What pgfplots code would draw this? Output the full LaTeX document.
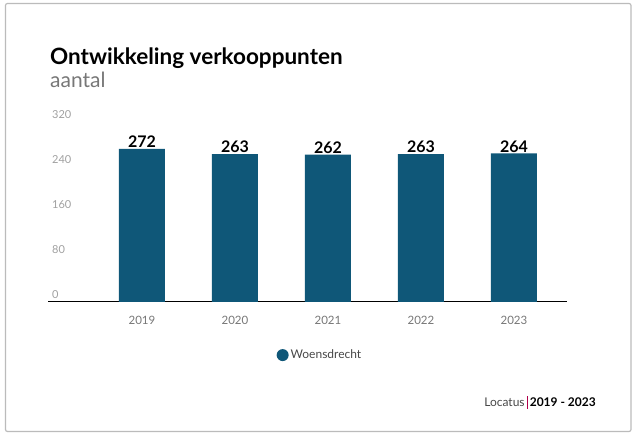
\documentclass[border=0pt]{standalone}
\usepackage{pgfplots}
\pgfplotsset{compat=1.18}
\usepackage{fontspec}
\setmainfont{Lato}
\definecolor{barblue}{HTML}{0F5778}
\definecolor{gridgray}{HTML}{DDDDDD}
\definecolor{ticklab}{HTML}{A0A0A0}
\definecolor{yearlab}{HTML}{777777}
\definecolor{framegray}{HTML}{BBBBBB}
\definecolor{srcred}{HTML}{B0004A}
\begin{document}
\begin{tikzpicture}[x=1pt,y=1pt]
\path[use as bounding box] (0,0) rectangle (635,435);
\draw[framegray, line width=1.2pt, rounded corners=2pt] (5.5,3.5) rectangle (631,431.5);
\node[anchor=base west, inner sep=0, font=\fontsize{22.5}{24}\selectfont\bfseries] at (50,370) {Ontwikkeling verkooppunten};
\node[anchor=base west, inner sep=0, font=\fontsize{21}{23}\selectfont, text=yearlab] at (50,347) {aantal};
\begin{axis}[
  at={(48pt,133pt)}, anchor=south west,
  scale only axis, width=519pt, height=180pt,
  xmin=-1.01, xmax=4.57, ymin=0, ymax=320,
  /pgf/number format/assume math mode=true,
  axis y line=none, axis x line*=bottom,
  x axis line style={black, line width=1pt, -},
  xtick={0,1,2,3,4}, xticklabels={2019,2020,2021,2022,2023},
  xtick style={draw=none},
  xticklabel style={text=yearlab, font=\fontsize{11.5}{12}\selectfont, yshift=-6pt},
  ytick={80,160,240,320},
  ymajorgrids, grid style={gridgray, line width=0.8pt},
  ybar, bar width=46pt,
  nodes near coords,
  every node near coord/.append style={font=\fontsize{16}{17}\selectfont\bfseries, text=black, yshift=-2.5pt},
  legend style={at={(0.524,-0.295)}, anchor=center, draw=none, fill=none,
    font=\fontsize{12}{13}\selectfont, text=yearlab!60!black},
  legend image code/.code={\fill[barblue] (0.1cm,0) circle (6pt);},
  clip=false,
]
\addplot[fill=barblue, draw=none] coordinates {(0,272) (1,263) (2,262) (3,263) (4,264)};
\addlegendentry{Woensdrecht}
\end{axis}
% y tick labels above the gridlines
\foreach \v/\yy in {0/133, 80/178, 160/223, 240/268, 320/313} {
  \node[anchor=base west, inner sep=0, text=ticklab, font=\fontsize{11}{12}\selectfont] at (52,\yy+3.5) {\v};
}
\node[anchor=base east, inner sep=0, font=\fontsize{12}{13}\selectfont] at (596,28) {\textcolor{yearlab!60!black}{Locatus}\,\textcolor{srcred}{\rule[-2pt]{1.2pt}{13pt}}\,\textbf{2019 - 2023}};
\end{tikzpicture}
\end{document}
